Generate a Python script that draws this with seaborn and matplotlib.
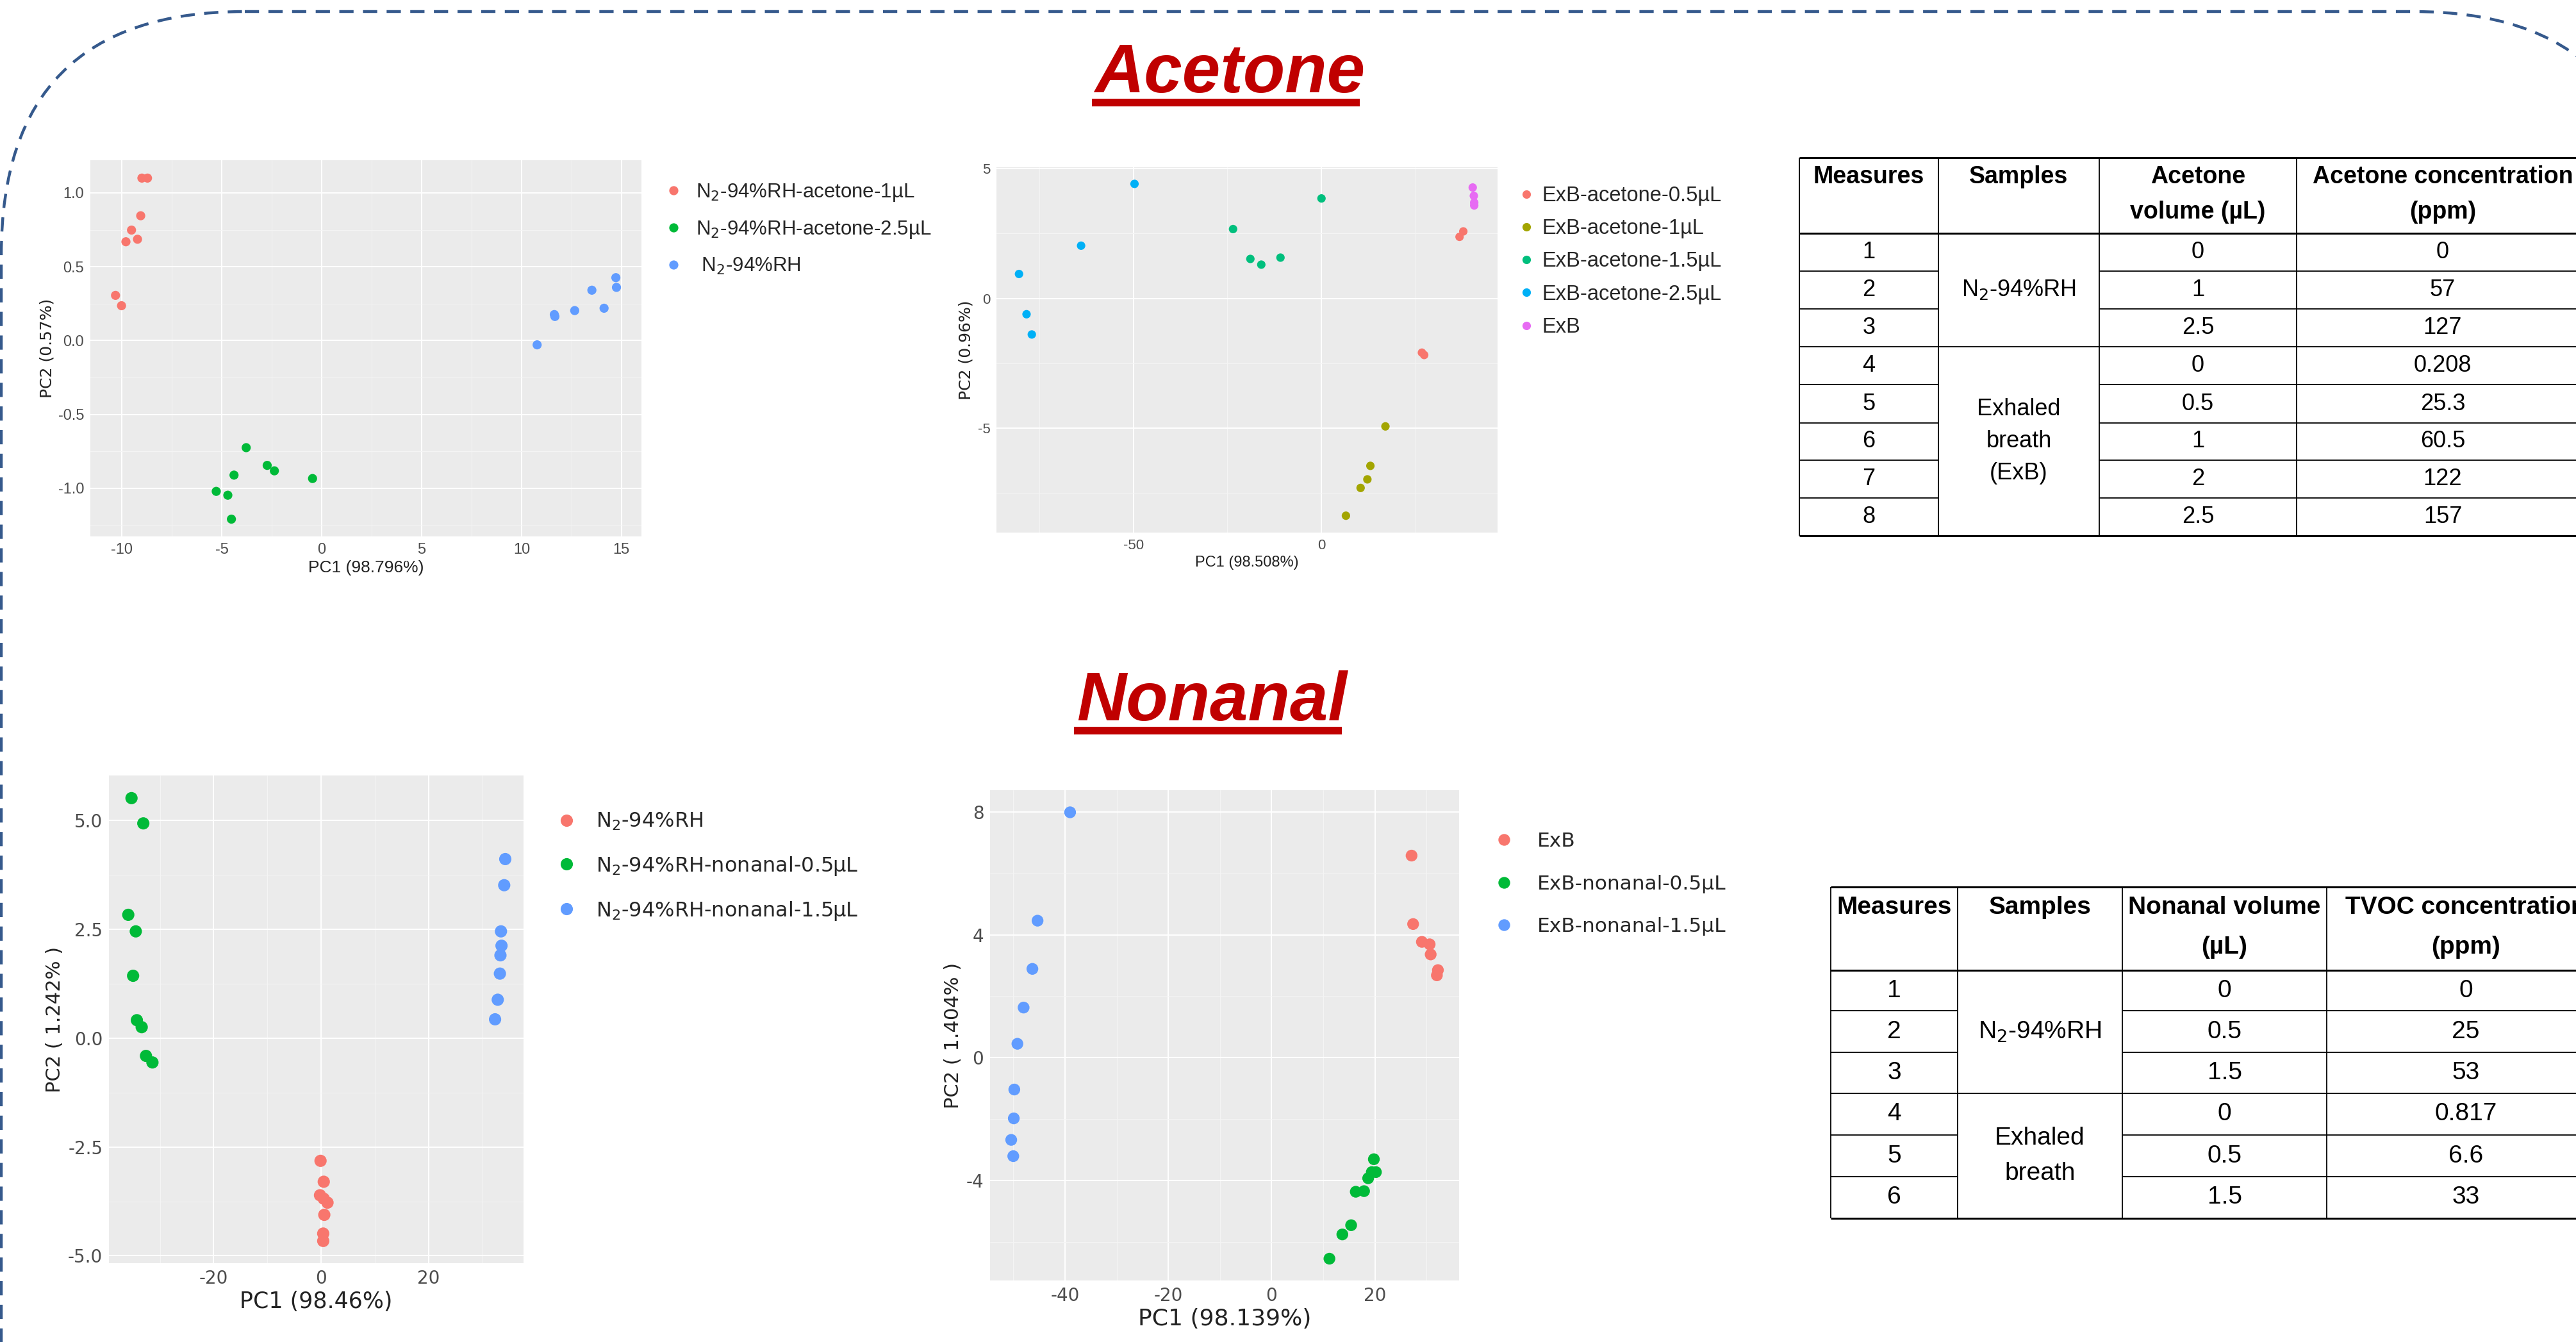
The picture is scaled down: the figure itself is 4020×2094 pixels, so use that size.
import matplotlib.pyplot as plt
import matplotlib.patches as mpatches
from matplotlib.ticker import AutoMinorLocator
import pandas as pd
import seaborn as sns

# ---- PCA scores ----
# Acetone, N2-94%RH
ace_n2_1ul_pc1 = [-9.0, -8.72, -9.06, -9.52, -9.80, -9.22, -10.32, -10.02]
ace_n2_1ul_pc2 = [1.10, 1.10, 0.845, 0.748, 0.669, 0.686, 0.306, 0.236]
ace_n2_25ul_pc1 = [-3.78, -2.73, -2.37, -4.39, -0.46, -5.28, -4.70, -4.52]
ace_n2_25ul_pc2 = [-0.725, -0.845, -0.882, -0.911, -0.934, -1.021, -1.047, -1.209]
ace_n2_pc1 = [14.72, 14.75, 13.52, 14.13, 12.66, 11.64, 11.67, 10.78]
ace_n2_pc2 = [0.426, 0.360, 0.341, 0.219, 0.203, 0.176, 0.163, -0.029]

# Acetone, exhaled breath
ace_exb_05_pc1 = [37.7, 36.7, 26.7, 27.3]
ace_exb_05_pc2 = [2.58, 2.37, -2.09, -2.18]
ace_exb_1_pc1 = [17.0, 13.0, 12.2, 10.4, 6.5]
ace_exb_1_pc2 = [-4.93, -6.45, -6.97, -7.30, -8.37]
ace_exb_15_pc1 = [0.0, -23.5, -18.9, -16.0, -10.9]
ace_exb_15_pc2 = [3.85, 2.67, 1.52, 1.30, 1.57]
ace_exb_25_pc1 = [-49.7, -63.9, -80.4, -78.4, -77.0]
ace_exb_25_pc2 = [4.41, 2.03, 0.94, -0.61, -1.39]
ace_exb_pc1 = [40.2, 40.5, 40.6, 40.6]
ace_exb_pc2 = [4.27, 3.95, 3.69, 3.58]

# Nonanal, N2-94%RH
non_n2_pc1 = [-0.1, 0.5, -0.2, 0.5, 1.2, 0.6, 0.4, 0.4]
non_n2_pc2 = [-2.82, -3.30, -3.61, -3.69, -3.78, -4.06, -4.49, -4.66]
non_n2_05_pc1 = [-35.3, -33.1, -35.9, -34.5, -35.0, -34.3, -33.4, -32.6, -31.4]
non_n2_05_pc2 = [5.51, 4.93, 2.83, 2.45, 1.43, 0.41, 0.25, -0.41, -0.56]
non_n2_15_pc1 = [34.3, 34.1, 33.5, 33.6, 33.4, 33.3, 32.9, 32.4]
non_n2_15_pc2 = [4.11, 3.51, 2.45, 2.12, 1.90, 1.48, 0.88, 0.43]

# Nonanal, exhaled breath
non_exb_pc1 = [27.1, 27.4, 29.1, 30.6, 30.8, 32.2, 32.0]
non_exb_pc2 = [6.58, 4.35, 3.77, 3.69, 3.36, 2.85, 2.68]
non_exb_05_pc1 = [19.8, 20.2, 19.4, 18.7, 17.9, 16.3, 15.4, 13.7, 11.2]
non_exb_05_pc2 = [-3.31, -3.73, -3.73, -3.93, -4.35, -4.37, -5.46, -5.76, -6.55]
non_exb_15_pc1 = [-39.0, -45.3, -46.3, -48.0, -49.2, -49.8, -49.9, -50.4, -50.0]
non_exb_15_pc2 = [7.99, 4.46, 2.89, 1.63, 0.45, -1.04, -1.98, -2.68, -3.21]

# group labels
p1_labels = ["N$_2$-94%RH-acetone-1µL", "N$_2$-94%RH-acetone-2.5µL", " N$_2$-94%RH"]
p2_labels = ["ExB-acetone-0.5µL", "ExB-acetone-1µL", "ExB-acetone-1.5µL",
             "ExB-acetone-2.5µL", "ExB"]
p3_labels = ["N$_2$-94%RH", "N$_2$-94%RH-nonanal-0.5µL", "N$_2$-94%RH-nonanal-1.5µL"]
p4_labels = ["ExB", "ExB-nonanal-0.5µL", "ExB-nonanal-1.5µL"]

# tick values / labels
p1_xticks = [-10, -5, 0, 5, 10, 15]
p1_yticks = [1.0, 0.5, 0.0, -0.5, -1.0]
p1_ytick_labels = ["1.0", "0.5", "0.0", "-0.5", "-1.0"]
p2_xticks = [-50, 0]
p2_yticks = [5, 0, -5]
p3_xticks = [-20, 0, 20]
p3_yticks = [5.0, 2.5, 0.0, -2.5, -5.0]
p3_ytick_labels = ["5.0", "2.5", "0.0", "-2.5", "-5.0"]
p4_xticks = [-40, -20, 0, 20]
p4_yticks = [8, 4, 0, -4]

# tables
t1_header = ["Measures", "Samples", "Acetone\nvolume (µL)", "Acetone concentration\n(ppm)"]
t1_measures = ["1", "2", "3", "4", "5", "6", "7", "8"]
t1_samples = ["N$_2$-94%RH", "Exhaled\nbreath\n(ExB)"]
t1_spans = [(0, 2), (3, 7)]
t1_volume = ["0", "1", "2.5", "0", "0.5", "1", "2", "2.5"]
t1_conc = ["0", "57", "127", "0.208", "25.3", "60.5", "122", "157"]

t2_header = ["Measures", "Samples", "Nonanal volume\n(µL)", "TVOC concentration\n(ppm)"]
t2_measures = ["1", "2", "3", "4", "5", "6"]
t2_samples = ["N$_2$-94%RH", "Exhaled\nbreath"]
t2_spans = [(0, 2), (3, 5)]
t2_volume = ["0", "0.5", "1.5", "0", "0.5", "1.5"]
t2_conc = ["0", "25", "53", "0.817", "6.6", "33"]

gg3 = ["#F8766D", "#00BA38", "#619CFF"]
gg5 = ["#F8766D", "#A3A500", "#00BF7D", "#00B0F6", "#E76BF3"]

sns.set_theme(style="darkgrid", rc={"axes.facecolor": "#EBEBEB", "grid.color": "white",
                                    "axes.unicode_minus": False})
plt.rcParams['font.family'] = ['Liberation Sans', 'DejaVu Sans']

W, H = 4020, 2094
fig = plt.figure(figsize=(W / 100, H / 100), dpi=100)

bg = fig.add_axes([0, 0, 1, 1], zorder=0)
bg.set_xlim(0, W)
bg.set_ylim(H, 0)
bg.axis('off')

# dashed rounded frame
frame = mpatches.FancyBboxPatch((2, 18), 4144, 2700, boxstyle="round,pad=0,rounding_size=380",
                                fill=False, edgecolor="#35598C", linewidth=3.2,
                                linestyle=(0, (5, 3.3)))
bg.add_patch(frame)


def make_df(labels, xs, ys):
    parts = []
    for lab, x, y in zip(labels, xs, ys):
        parts.append(pd.DataFrame({'PC1': x, 'PC2': y, 'group': lab}))
    return pd.concat(parts, ignore_index=True)


def pca_panel(box, df, labels, colors, s, xlim, ylim, xticks, yticks, ytl,
              xlabel, ylabel, font, tick_fs, xl_fs, yl_fs, leg):
    x0, y0, x1, y1 = box
    ax = fig.add_axes([x0 / W, 1 - y1 / H, (x1 - x0) / W, (y1 - y0) / H], zorder=1)
    sns.scatterplot(data=df, x='PC1', y='PC2', hue='group', hue_order=labels,
                    palette=colors, s=s, linewidth=0, alpha=1, ax=ax)
    ax.set_xlim(*xlim)
    ax.set_ylim(*ylim)
    ax.set_xticks(xticks, labels=[str(v) for v in xticks])
    ax.set_yticks(yticks, labels=ytl)
    ax.xaxis.set_minor_locator(AutoMinorLocator(2))
    ax.yaxis.set_minor_locator(AutoMinorLocator(2))
    ax.grid(True, which='major', color='white', linewidth=1.4)
    ax.grid(True, which='minor', color='#F5F5F5', linewidth=0.7)
    ax.tick_params(which='major', length=4, width=1, color='#333333', labelcolor='#4D4D4D',
                   labelsize=tick_fs, labelfontfamily=font, pad=3)
    ax.tick_params(which='minor', length=0)
    ax.set_xlabel(xlabel, fontsize=xl_fs, family=font, color='#222222')
    ax.set_ylabel(ylabel, fontsize=yl_fs, family='DejaVu Sans', color='#222222')
    for sp in ax.spines.values():
        sp.set_visible(False)
    mx, tx, top, fs, lsp = leg
    fs_px = fs * 100 / 72
    hl = 0.8
    sns.move_legend(ax, "upper left", bbox_to_anchor=((mx - hl / 2 * fs_px) / W, 1 - top / H),
                    bbox_transform=fig.transFigure, frameon=False, title=None,
                    prop={'family': font, 'size': fs}, handlelength=hl,
                    handletextpad=(tx - mx - hl / 2 * fs_px) / fs_px,
                    labelspacing=lsp, borderpad=0, borderaxespad=0)
    return ax


df1 = make_df(p1_labels, [ace_n2_1ul_pc1, ace_n2_25ul_pc1, ace_n2_pc1],
              [ace_n2_1ul_pc2, ace_n2_25ul_pc2, ace_n2_pc2])
ax1 = pca_panel((141, 250, 1001, 837), df1, p1_labels, gg3, 105, (-11.58, 16.0), (-1.326, 1.221),
                p1_xticks, p1_yticks, p1_ytick_labels, "PC1 (98.796%)", "PC2 (0.57%)",
                'Liberation Sans', 17, 19, 18, (1051, 1086, 284, 22.5, 0.8))

df2 = make_df(p2_labels,
              [ace_exb_05_pc1, ace_exb_1_pc1, ace_exb_15_pc1, ace_exb_25_pc1, ace_exb_pc1],
              [ace_exb_05_pc2, ace_exb_1_pc2, ace_exb_15_pc2, ace_exb_25_pc2, ace_exb_pc2])
ax2 = pca_panel((1555, 261, 2337, 831), df2, p2_labels, gg5, 90, (-86.4, 46.8), (-9.02, 5.05),
                p2_xticks, p2_yticks, [str(v) for v in p2_yticks], "PC1 (98.508%)", "PC2 (0.96%)",
                'Liberation Sans', 16, 17, 18, (2382, 2406, 290, 23.5, 0.62))

df3 = make_df(p3_labels, [non_n2_pc1, non_n2_05_pc1, non_n2_15_pc1],
              [non_n2_pc2, non_n2_05_pc2, non_n2_15_pc2])
ax3 = pca_panel((170, 1210, 817, 1971), df3, p3_labels, gg3, 190, (-39.5, 37.7), (-5.17, 6.03),
                p3_xticks, p3_yticks, p3_ytick_labels, "PC1 (98.46%)", "PC2 ( 1.242% )",
                'DejaVu Sans', 20, 25, 22, (884, 930, 1266, 23, 1.1))

df4 = make_df(p4_labels, [non_exb_pc1, non_exb_05_pc1, non_exb_15_pc1],
              [non_exb_pc2, non_exb_05_pc2, non_exb_15_pc2])
ax4 = pca_panel((1545, 1233, 2277, 1998), df4, p4_labels, gg3, 175, (-54.5, 36.3), (-7.26, 8.71),
                p4_xticks, p4_yticks, [str(v) for v in p4_yticks], "PC1 (98.139%)", "PC2 ( 1.404% )",
                'DejaVu Sans', 20, 26, 22, (2347, 2399, 1298, 22.5, 1.2))

# section titles
titles = []
for txt, cx, base in [("Acetone", 1919, 144), ("Nonanal", 1891, 1124)]:
    t = bg.text(cx, base, txt, ha='center', va='baseline', fontsize=77, fontweight='bold',
                style='italic', color='#C00000', family='Liberation Sans')
    titles.append((t, base))


def draw_table(xe, ye, header, measures, samples, spans, volume, conc, fs_h, fs_b, ls):
    top, hb = ye[0], ye[1]
    hh = hb - top
    for j, head in enumerate(header):
        cx = (xe[j] + xe[j + 1]) / 2
        for k, line in enumerate(head.split("\n")):
            yy = top + hh * (0.25 if k == 0 else 0.72)
            bg.text(cx, yy, line, ha='center', va='center', fontsize=fs_h, fontweight='bold',
                    color='black')
    for i in range(len(measures)):
        cy = (ye[i + 1] + ye[i + 2]) / 2
        for j, val in [(0, measures[i]), (2, volume[i]), (3, conc[i])]:
            bg.text((xe[j] + xe[j + 1]) / 2, cy, val, ha='center', va='center',
                    fontsize=fs_b, color='black')
    for lab, (a, b) in zip(samples, spans):
        cy = (ye[a + 1] + ye[b + 2]) / 2
        bg.text((xe[1] + xe[2]) / 2, cy, lab, ha='center', va='center', fontsize=fs_b,
                multialignment='center', linespacing=ls, color='black')
    thick, thin = 2.2, 1.3
    bg.hlines([ye[0], ye[1], ye[-1]], xe[0], xe[-1], color='black', lw=thick)
    group_breaks = [ye[b + 2] for a, b in spans[:-1]]
    for y in ye[2:-1]:
        if y in group_breaks:
            bg.hlines(y, xe[0], xe[-1], color='black', lw=thin)
        else:
            bg.hlines(y, xe[0], xe[1], color='black', lw=thin)
            bg.hlines(y, xe[2], xe[-1], color='black', lw=thin)
    bg.vlines(xe, ye[0], ye[-1], color='black', lw=thin)


draw_table([2808, 3025, 3276, 3584, 4040],
           [246, 364, 423, 482, 541, 600, 660, 718, 777, 836],
           t1_header, t1_measures, t1_samples, t1_spans, t1_volume, t1_conc, 27, 26, 1.55)
draw_table([2857, 3055, 3312, 3631, 4065],
           [1384, 1514, 1577, 1642, 1706, 1771, 1836, 1901],
           t2_header, t2_measures, t2_samples, t2_spans, t2_volume, t2_conc, 28, 28, 1.65)

# underline the section titles
fig.canvas.draw()
inv = bg.transData.inverted()
for t, base in titles:
    bb = t.get_window_extent()
    (xa, _), (xb, _) = inv.transform([[bb.x0, bb.y0], [bb.x1, bb.y1]])
    bg.add_patch(mpatches.Rectangle((xa - 4, base + 10), xb - xa - 4, 12, color='#C00000',
                                    linewidth=0))

fig.savefig("out.png", dpi=100)
